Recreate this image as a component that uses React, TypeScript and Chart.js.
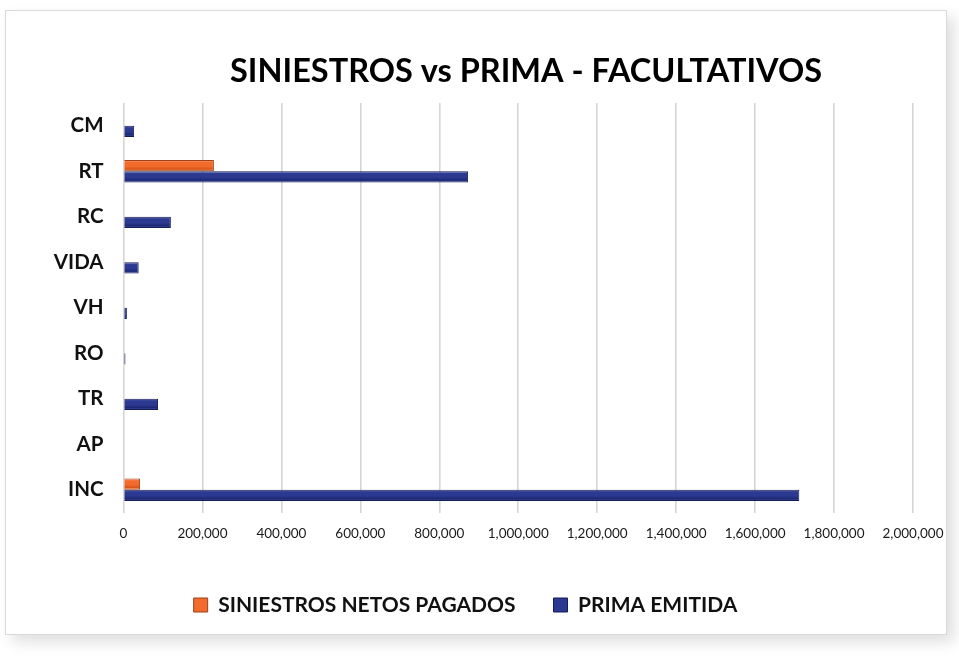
import React, { useEffect, useRef } from "react";
import { Chart, registerables } from "chart.js";

Chart.register(...registerables);

const categories = ["CM", "RT", "RC", "VIDA", "VH", "RO", "TR", "AP", "INC"];
const siniestrosNetosPagados = [0, 229000, 0, 0, 0, 0, 0, 0, 42000];
const primaEmitida = [27000, 873000, 120000, 38500, 8600, 5000, 87500, 0, 1712000];
const xTickMin = 0;
const xTickMax = 2000000;
const xTickStep = 200000;

const titleText = "SINIESTROS vs PRIMA - FACULTATIVOS";
const seriesNames = ["SINIESTROS NETOS PAGADOS", "PRIMA EMITIDA"];

const solidColors = ["#f26a2c", "#2b3990"];
const bevelStops = [
  ["#f9a277", "#f26a2c", "#d9561c", "#f58a55"],
  ["#5a67b4", "#2b3990", "#1d2874", "#4a57a6"],
];
const borderColors = ["#9c4119", "#141c58"];
const CAT_PCT = 0.49;

function bevelFill(dsIndex: number) {
  return (ctx: any) => {
    const chart = ctx.chart;
    const y = chart.scales && chart.scales.y;
    if (!y || ctx.dataIndex === undefined || y.bottom === undefined) return solidColors[dsIndex];
    const step = Math.abs(y.getPixelForValue(1) - y.getPixelForValue(0));
    if (!isFinite(step) || step <= 0) return solidColors[dsIndex];
    const barH = (step * CAT_PCT) / 2;
    const c = y.getPixelForValue(ctx.dataIndex);
    const top = dsIndex === 0 ? c - barH : c;
    const g = chart.ctx.createLinearGradient(0, top, 0, top + barH);
    const s = bevelStops[dsIndex];
    g.addColorStop(0, s[0]);
    g.addColorStop(0.22, s[1]);
    g.addColorStop(0.55, s[1]);
    g.addColorStop(0.8, s[2]);
    g.addColorStop(1, s[3]);
    return g;
  };
}

const shiftBoxes = {
  id: "shiftBoxes",
  afterLayout(chart: any) {
    const t = chart.titleBlock;
    if (t) {
      t.left += 69.5;
      t.right += 69.5;
    }
    const l = chart.legend;
    if (l) {
      l.left += 9;
      l.right += 9;
    }
  },
};

export default function App() {
  const ref = useRef<HTMLCanvasElement | null>(null);

  useEffect(() => {
    if (!ref.current) return;
    const chart = new Chart(ref.current, {
      type: "bar",
      data: {
        labels: categories,
        datasets: [
          {
            label: seriesNames[0],
            data: siniestrosNetosPagados,
            backgroundColor: bevelFill(0),
            borderColor: borderColors[0],
            borderWidth: 1,
            categoryPercentage: CAT_PCT,
            barPercentage: 1,
          },
          {
            label: seriesNames[1],
            data: primaEmitida,
            backgroundColor: bevelFill(1),
            borderColor: borderColors[1],
            borderWidth: 1,
            categoryPercentage: CAT_PCT,
            barPercentage: 1,
          },
        ],
      },
      options: {
        indexAxis: "y",
        responsive: false,
        animation: false,
        layout: { padding: { left: 0, right: 46, top: 0, bottom: 31.5 } },
        plugins: {
          title: {
            display: true,
            text: titleText,
            color: "#000",
            font: { family: "Lato", size: 32.5, weight: "bold", lineHeight: 1.2 },
            padding: { top: 52, bottom: 12 },
          },
          legend: {
            position: "bottom",
            labels: {
              color: "#111",
              font: { family: "Lato", size: 21, weight: "bold" },
              boxWidth: 14,
              boxHeight: 14,
              padding: 38,
              generateLabels: (ch: any) => {
                const items = Chart.defaults.plugins.legend.labels.generateLabels(ch);
                items.forEach((it: any, i: number) => {
                  it.fillStyle = solidColors[i];
                  it.strokeStyle = borderColors[i];
                  it.lineWidth = 1;
                });
                return items;
              },
            },
          },
          tooltip: { enabled: false },
        },
        scales: {
          x: {
            min: xTickMin,
            max: xTickMax,
            ticks: {
              stepSize: xTickStep,
              padding: 13,
              color: "#1a1a1a",
              font: { family: "Lato", size: 13.5 },
              callback: (v: any) => Number(v).toLocaleString("en-US"),
            },
            grid: { color: "#d6d6d6", lineWidth: 1.6, drawTicks: false },
            border: { display: false },
            afterFit: (s: any) => {
              s.height = 44;
            },
          },
          y: {
            ticks: {
              padding: 20,
              color: "#111",
              font: { family: "Lato", size: 20.5, weight: "bold" },
            },
            grid: { display: false, drawTicks: false },
            border: { display: false },
            afterFit: (s: any) => {
              s.width = 123.5;
            },
          },
        },
      },
      plugins: [shiftBoxes],
    });
    return () => chart.destroy();
  }, []);

  return (
    <div style={{ position: "fixed", left: 0, top: 0, width: 959, height: 657, background: "#fff", overflow: "hidden" }}>
      <div
        style={{
          position: "absolute",
          left: 5,
          top: 10,
          width: 940,
          height: 623,
          border: "1px solid #d9d9d9",
          boxShadow: "7px 7px 14px rgba(0,0,0,0.13)",
          background: "#fff",
        }}
      />
      <canvas ref={ref} width={959} height={657} style={{ position: "absolute", left: 0, top: 0, width: 959, height: 657 }} />
    </div>
  );
}
